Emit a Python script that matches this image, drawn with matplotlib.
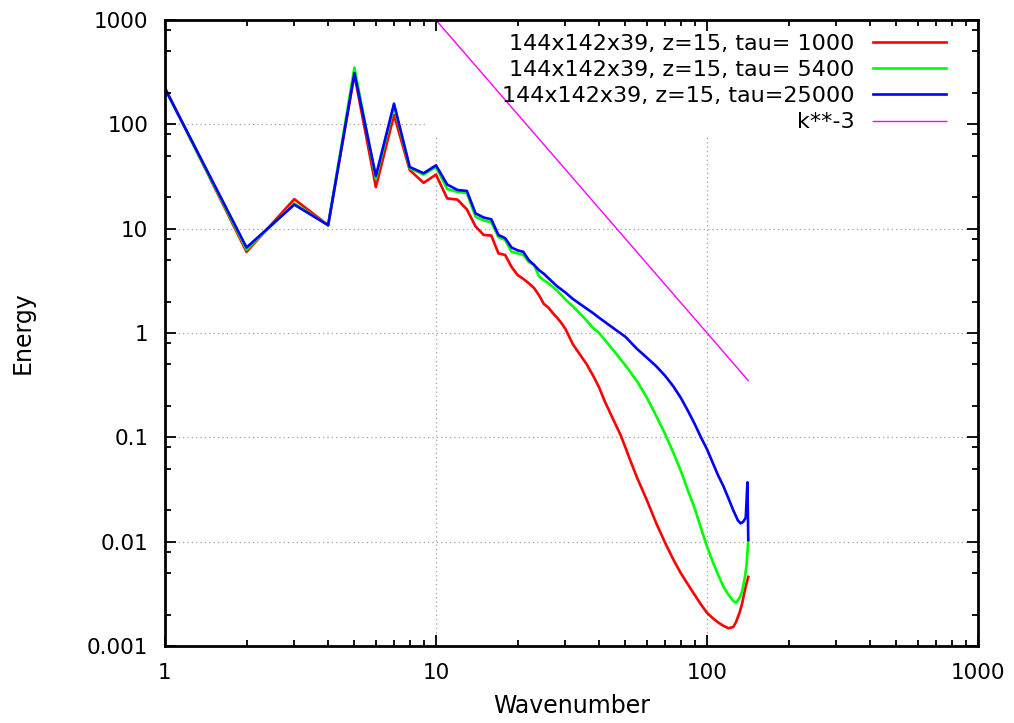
import matplotlib
matplotlib.use("Agg")
import matplotlib.pyplot as plt
from matplotlib.patches import Rectangle
from matplotlib.ticker import NullFormatter

# Energy spectra (wavenumber k, energy E)
k_red = [1, 2, 3, 4, 5, 6, 7, 8, 9, 10, 11, 12, 13, 14, 15, 16, 17, 18, 19, 20,
         21, 22, 23, 24, 25, 26, 27, 28, 29, 30, 32, 34, 36, 38, 40, 42, 45, 48, 50, 52,
         55, 60, 65, 70, 75, 80, 85, 90, 95, 100, 105, 110, 115, 120, 125, 128, 132,
         135, 138, 140, 142]
e_red = [225, 6.0, 19.2, 10.8, 300, 25, 123, 36.5, 27.5, 33, 19.5, 19, 15.3, 10.5, 8.7, 8.6, 5.8, 5.6, 4.3, 3.6,
         3.3, 3.0, 2.7, 2.3, 1.9, 1.75, 1.55, 1.4, 1.25, 1.1, 0.78, 0.62, 0.5, 0.39, 0.30, 0.22, 0.15, 0.105, 0.08, 0.061,
         0.042, 0.025, 0.015, 0.0098, 0.0068, 0.005, 0.0039, 0.0031, 0.0025, 0.00208, 0.00185, 0.00168, 0.00156, 0.00148, 0.00152, 0.0017, 0.0021,
         0.0026, 0.00345, 0.004, 0.0046]

k_green = [1, 2, 3, 4, 5, 6, 7, 8, 9, 10, 11, 12, 13, 14, 15, 16, 17, 18, 19, 20,
           21, 22, 23, 24, 25, 26, 28, 30, 32, 35, 38, 40, 45, 50, 55, 60, 65, 70, 75, 80,
           85, 90, 95, 100, 105, 110, 115, 120, 125, 128, 132, 135, 138, 140, 142]
e_green = [220, 6.3, 17.5, 10.8, 350, 30, 150, 38, 33, 39, 24, 22.5, 22, 13, 12, 11.5, 8.3, 7.8, 6.0, 5.8,
           5.6, 4.8, 4.5, 3.5, 3.2, 3.0, 2.55, 2.1, 1.8, 1.42, 1.12, 1.0, 0.69, 0.49, 0.35, 0.24, 0.16, 0.108, 0.072, 0.048,
           0.031, 0.021, 0.0135, 0.009, 0.0064, 0.0048, 0.0037, 0.0031, 0.0027, 0.0026, 0.0029, 0.0034, 0.0046, 0.006, 0.0104]

k_blue = [1, 2, 3, 4, 5, 6, 7, 8, 9, 10, 11, 12, 13, 14, 15, 16, 17, 18, 19, 20,
          21, 22, 23, 24, 25, 26, 28, 30, 32, 35, 38, 40, 45, 50, 55, 60, 65, 70, 75, 80,
          85, 90, 95, 100, 105, 110, 115, 120, 125, 130, 133, 136, 139, 141, 142]
e_blue = [220, 6.6, 17, 10.8, 310, 32, 158, 39, 34, 40.5, 26.5, 23.5, 23, 14, 12.8, 12.3, 8.7, 8.1, 6.6, 6.2,
          6.0, 5.0, 4.5, 4.0, 3.7, 3.35, 2.8, 2.45, 2.12, 1.8, 1.55, 1.4, 1.12, 0.92, 0.71, 0.58, 0.48, 0.39, 0.31, 0.24,
          0.18, 0.135, 0.1, 0.077, 0.057, 0.043, 0.034, 0.026, 0.02, 0.016, 0.015, 0.0155, 0.017, 0.037, 0.0104]

# k**-3 reference line end points
ref_k = [10, 142]
ref_e = [1000, 0.35]

labels = ["144x142x39, z=15, tau= 1000",
          "144x142x39, z=15, tau= 5400",
          "144x142x39, z=15, tau=25000",
          "k**-3"]

x_ticks = [1, 10, 100, 1000]
x_tick_labels = ["1", "10", "100", "1000"]
y_ticks = [0.001, 0.01, 0.1, 1, 10, 100, 1000]
y_tick_labels = ["0.001", "0.01", "0.1", "1", "10", "100", "1000"]


def main():
    fig = plt.figure(figsize=(10.14, 7.23), dpi=100)
    ax = fig.add_axes([0.1627, 0.1065, 0.8018, 0.8658])
    ax.set_xscale("log")
    ax.set_yscale("log")

    # dotted grid, drawn by hand so the key box can hide it
    for v in y_ticks[1:-1]:
        ax.axhline(v, color="#a0a0a0", lw=0.9, ls=(0, (1, 2.5)), zorder=0.3)
    for v in x_ticks[1:-1]:
        ax.axvline(v, color="#a0a0a0", lw=0.9, ls=(0, (1, 2.5)), zorder=0.3)
    ax.add_patch(Rectangle((0.3235, 0.813), 0.6765, 0.187, transform=ax.transAxes,
                           facecolor="white", edgecolor="none", zorder=0.6))

    ax.plot(k_red, e_red, color="#ff0000", lw=1.9, label=labels[0], zorder=2)
    ax.plot(k_green, e_green, color="#00ff00", lw=1.9, label=labels[1], zorder=2)
    ax.plot(k_blue, e_blue, color="#0000ff", lw=1.9, label=labels[2], zorder=2)
    ax.plot(ref_k, ref_e, color="#ff00ff", lw=1.0, label=labels[3], zorder=2)

    ax.set_axisbelow(False)
    ax.set_xticks(x_ticks)
    ax.set_xticklabels(x_tick_labels)
    ax.set_yticks(y_ticks)
    ax.set_yticklabels(y_tick_labels)
    ax.set_xticks([m * 10 ** d for d in range(3) for m in range(2, 10)], minor=True)
    ax.set_yticks([m * 10.0 ** d for d in range(-3, 3) for m in (2, 5, 8)], minor=True)
    ax.xaxis.set_minor_formatter(NullFormatter())
    ax.yaxis.set_minor_formatter(NullFormatter())
    ax.set_xlim(1, 1000)
    ax.set_ylim(0.001, 1000)

    ax.tick_params(which="both", direction="in", top=True, right=True, width=1.3,
                   labelsize=15.5, pad=12)
    ax.tick_params(which="major", length=8)
    ax.tick_params(which="minor", length=4)
    for s in ax.spines.values():
        s.set_linewidth(2)

    ax.set_xlabel("Wavenumber", fontsize=17)
    ax.set_ylabel("Energy", fontsize=17)
    ax.xaxis.set_label_coords(0.5, -0.077)
    ax.yaxis.set_label_coords(-0.16, 0.5)

    ax.legend(loc="upper right", bbox_to_anchor=(0.9606, 0.978), frameon=False,
              markerfirst=False, handlelength=3.3, handletextpad=0.8,
              labelspacing=0.28, borderaxespad=0, borderpad=0, fontsize=16)

    fig.savefig("out.png", dpi=100)
    plt.close(fig)


if __name__ == "__main__":
    main()
